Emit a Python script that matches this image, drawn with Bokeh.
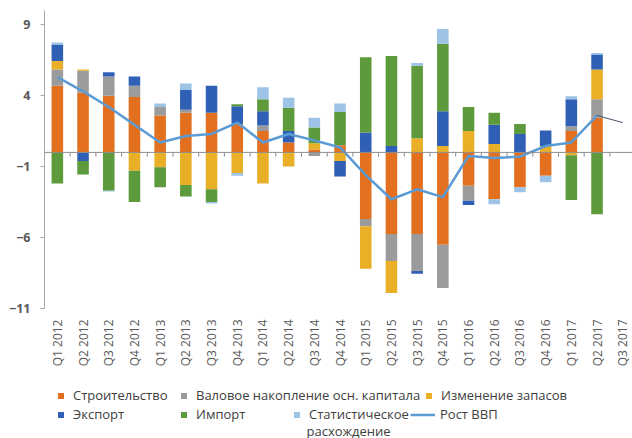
import numpy as np
from bokeh.plotting import figure
from bokeh.models import Range1d, FixedTicker, Span, Legend, LegendItem, Label
from bokeh.layouts import column
from bokeh.embed import file_html
from bokeh.resources import INLINE

quarters = ["Q1 2012", "Q2 2012", "Q3 2012", "Q4 2012",
            "Q1 2013", "Q2 2013", "Q3 2013", "Q4 2013",
            "Q1 2014", "Q2 2014", "Q3 2014", "Q4 2014",
            "Q1 2015", "Q2 2015", "Q3 2015", "Q4 2015",
            "Q1 2016", "Q2 2016", "Q3 2016", "Q4 2016",
            "Q1 2017", "Q2 2017", "Q3 2017"]

construction = [4.7, 4.2, 4.0, 3.9, 2.6, 2.8, 2.8, 2.0, 1.5, 0.7, 0.2, 0.5,
                -4.7, -5.75, -5.75, -6.5, -2.35, -3.3, -2.45, -1.65, 1.5, 2.45, 0]
gross_capital = [1.15, 1.55, 1.35, 0.8, 0.6, 0.2, 0, 0, 0.4, 0, -0.25, 0,
                 -0.5, -1.9, -2.6, -3.05, -1.05, 0, 0, 0, 0.35, 1.3, 0]
stock_change = [0.6, 0.1, 0, -1.3, -1.05, -2.3, -2.6, -1.45, -2.2, -1.0, 0.45, -0.6,
                -3.0, -2.25, 1.0, 0.45, 1.5, 0.6, 0, 0.45, -0.2, 2.1, 0]
export = [1.15, -0.6, 0.3, 0.65, 0, 1.4, 1.9, 1.25, 1.0, 0.8, 0, -1.1,
          1.4, 0.45, -0.2, 2.45, -0.3, 1.35, 1.3, 1.1, 1.9, 1.05, 0]
imports = [-2.2, -0.95, -2.7, -2.2, -1.4, -0.8, -0.9, 0.15, 0.85, 1.65, 1.1, 2.35,
           5.3, 6.35, 5.1, 4.75, 1.7, 0.85, 0.7, 0, -3.15, -4.35, 0]
stat_discrepancy = [0.15, 0, -0.05, 0, 0.25, 0.45, -0.1, -0.2, 0.85, 0.7, 0.7, 0.6,
                    0, 0, 0.2, 1.05, 0, -0.35, -0.35, -0.45, 0.2, 0.1, 0]
gdp_growth = [5.3, 4.3, 3.2, 1.95, 0.7, 1.15, 1.3, 2.1, 0.7, 1.3, 0.85, 0.35,
              -1.6, -3.3, -2.6, -3.15, -0.25, -0.4, -0.3, 0.45, 0.7, 2.6, 2.1]

names = ["Строительство", "Валовое накопление осн. капитала", "Изменение запасов",
         "Экспорт", "Импорт", "Статистическое"]
colors = ["#E2701F", "#9B9B9B", "#E9AF26", "#2F60B5", "#5C9A3B", "#9DC3E6"]
series = [construction, gross_capital, stock_change, export, imports, stat_discrepancy]
line_color = "#5B9BD5"
gdp_name = "Рост ВВП"

tick_font = "Open Sans"
text_col = "#595959"

n = len(quarters)
x = np.arange(n)

W = 632
LEFT = 44

p = figure(width=W, height=378, output_backend="svg", toolbar_location=None,
           x_range=Range1d(-0.5, 22.38), y_range=Range1d(-11, 10),
           min_border_left=LEFT, min_border_right=0, min_border_top=10, min_border_bottom=70)
p.outline_line_color = None
p.xgrid.visible = False
p.ygrid.visible = False

pos_base = np.zeros(n)
neg_base = np.zeros(n)
for vals, col in zip(series, colors):
    v = np.array(vals, dtype=float)
    pos = np.where(v > 0, v, 0.0)
    neg = np.where(v < 0, v, 0.0)
    p.vbar(x=x, bottom=pos_base.copy(), top=pos_base + pos, width=0.45,
           fill_color=col, line_color=None)
    p.vbar(x=x, bottom=neg_base.copy(), top=neg_base + neg, width=0.45,
           fill_color=col, line_color=None)
    pos_base += pos
    neg_base += neg

p.add_layout(Span(location=0, dimension="width", line_color="#8C8C8C", line_width=1))
bounds = x[:-1] + 0.5
p.segment(x0=bounds, y0=np.zeros(len(bounds)), x1=bounds, y1=np.full(len(bounds), -0.3),
          line_color="#8C8C8C", line_width=1)

p.line(x[:n - 1], gdp_growth[:n - 1], line_color=line_color, line_width=2.5)
p.line(x[n - 2:], gdp_growth[n - 2:], line_color="#44546A", line_width=1)

# y axis
p.yaxis.ticker = FixedTicker(ticks=[-11, -6, -1, 4, 9])
p.yaxis.axis_line_color = "#A6A6A6"
p.yaxis.major_tick_line_color = "#A6A6A6"
p.yaxis.major_tick_out = 4
p.yaxis.major_tick_in = 0
p.yaxis.minor_tick_line_color = None
p.yaxis.major_label_text_font = tick_font
p.yaxis.major_label_text_font_style = "bold"
p.yaxis.major_label_text_font_size = "12.5px"
p.yaxis.major_label_text_color = text_col
p.yaxis.major_label_standoff = 10

# x axis
p.xaxis.ticker = FixedTicker(ticks=list(range(n)))
p.xaxis.major_label_overrides = {i: q for i, q in enumerate(quarters)}
p.xaxis.major_label_orientation = np.pi / 2
p.xaxis.axis_line_color = None
p.xaxis.major_tick_line_color = None
p.xaxis.minor_tick_line_color = None
p.xaxis.major_label_text_font = tick_font
p.xaxis.major_label_text_font_size = "12px"
p.xaxis.major_label_text_color = text_col
p.xaxis.major_label_standoff = 5

# legend figure (frame aligned with the chart frame)
leg = figure(width=W, height=60, output_backend="svg", toolbar_location=None,
             x_range=Range1d(0, 1), y_range=Range1d(0, 1),
             x_axis_type=None, y_axis_type=None,
             min_border_left=LEFT, min_border_right=0, min_border_top=0, min_border_bottom=0)
leg.outline_line_color = None

legend_font = "Open Sans"
legend_size = "13px"
leg_col = "#404040"

dummy = []
for col in colors:
    dummy.append(leg.scatter(x=[np.nan], y=[np.nan], marker="square", size=6,
                             fill_color=col, line_color=None))
dline = leg.line(x=[np.nan, np.nan], y=[np.nan, np.nan], line_color=line_color, line_width=2.5)

# legend box left (relative to frame left) and bottom offset
slots = [(9, 34), (132, 34), (377, 34),
         (9, 15), (132, 15), (245, 15)]


def make_legend(label, renderer, loc, gw, standoff):
    lg = Legend(items=[LegendItem(label=label, renderers=[renderer])], location=loc,
                glyph_width=gw, glyph_height=15, label_height=15, label_width=10,
                label_standoff=standoff, padding=0, margin=0, spacing=0,
                border_line_color=None, background_fill_alpha=0,
                label_text_font=legend_font, label_text_font_size=legend_size,
                label_text_color=leg_col)
    leg.add_layout(lg)


for name, r, slot in zip(names, dummy, slots):
    make_legend(name, r, slot, 15, 5)
make_legend(gdp_name, dline, (366, 15), 25, 5)

leg.add_layout(Label(x=262, y=8, x_units="screen", y_units="screen", text="расхождение",
                     text_font=legend_font, text_font_size=legend_size,
                     text_color=leg_col, text_baseline="middle"))

layout = column(p, leg, spacing=0)
open("out.html", "w").write(file_html(layout, INLINE))
